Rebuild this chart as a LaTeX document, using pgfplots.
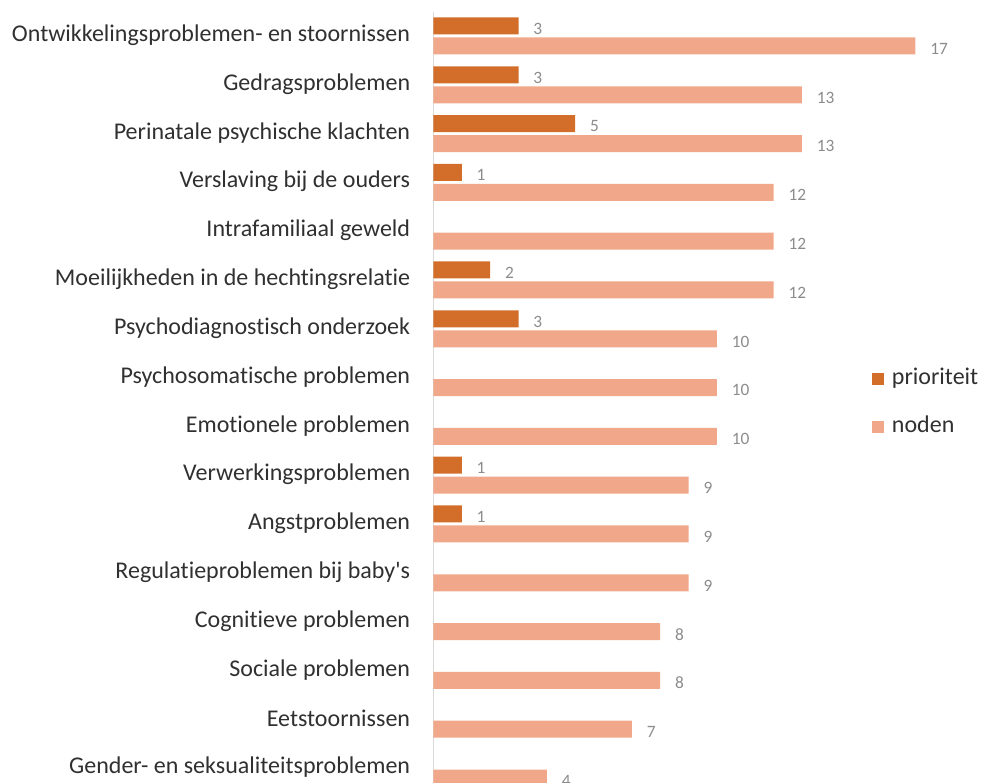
\documentclass[border=0pt]{standalone}
\usepackage{pgfplots}
\pgfplotsset{compat=1.18}
\usepackage{fontspec}
\setmainfont[RawFeature={-liga;-calt;-clig;-dlig}]{Carlito}
\definecolor{prio}{RGB}{210,110,42}
\definecolor{noden}{RGB}{241,167,138}
\definecolor{lbl}{RGB}{140,140,140}
\definecolor{cat}{RGB}{48,48,48}
\definecolor{axl}{RGB}{217,217,217}
\begin{document}
\begin{tikzpicture}
\path[use as bounding box, clip] (-325.1pt,-10.5pt) rectangle (418.9pt,576pt);
\begin{axis}[
  at={(0,0)}, anchor=origin,
  x=21.26pt, y=36.6pt,
  xmin=0, xmax=19.7, ymin=-0.5, ymax=15.5,
  axis x line=none, axis y line*=left,
  y axis line style={draw=axl, line width=1pt, -},
  xbar, bar width=12.75pt,
  clip=false,
  /pgf/number format/assume math mode=true,
  ytick={0,...,15},
  major tick length=0pt,
  yticklabels={Gender- en seksualiteitsproblemen,Eetstoornissen,Sociale problemen,Cognitieve problemen,Regulatieproblemen bij baby\textquotesingle s,Angstproblemen,Verwerkingsproblemen,Emotionele problemen,Psychosomatische problemen,Psychodiagnostisch onderzoek,Moeilijkheden in de hechtingsrelatie,Intrafamiliaal geweld,Verslaving bij de ouders,Perinatale psychische klachten,Gedragsproblemen,Ontwikkelingsproblemen- en stoornissen},
  yticklabel style={font=\fontsize{18}{21}\selectfont, text=cat, anchor=east, xshift=-14pt, yshift=0.5pt},
  nodes near coords,
  every node near coord/.append style={font=\fontsize{13}{15}\selectfont, text=lbl, anchor=west, inner sep=0pt, xshift=11pt, yshift=-2pt},
  legend style={at={(axis cs:15.46,7.48)}, anchor=west, draw=none, fill=none, inner sep=0pt,
    font=\fontsize{18}{21}\selectfont, text=cat, row sep=18.7pt,
    nodes={inner sep=1pt, text height=12pt, text depth=3.5pt}},
  legend cell align=left,
  legend image code/.code={\fill[#1] (0pt,-4.5pt) rectangle (9pt,4.5pt); \path (14pt,0pt);},
]
\addplot[fill=prio, draw=none, bar shift=7.5pt] coordinates {
  (3,15) (3,14) (5,13) (1,12) (2,10) (3,9) (1,6) (1,5)
};
\addlegendentry{prioriteit}
\addplot[fill=noden, draw=none, bar shift=-7.5pt] coordinates {
  (17,15) (13,14) (13,13) (12,12) (12,11) (12,10) (10,9) (10,8) (10,7) (9,6) (9,5) (9,4) (8,3) (8,2) (7,1) (4,0)
};
\addlegendentry{noden}
\end{axis}
\end{tikzpicture}
\end{document}
